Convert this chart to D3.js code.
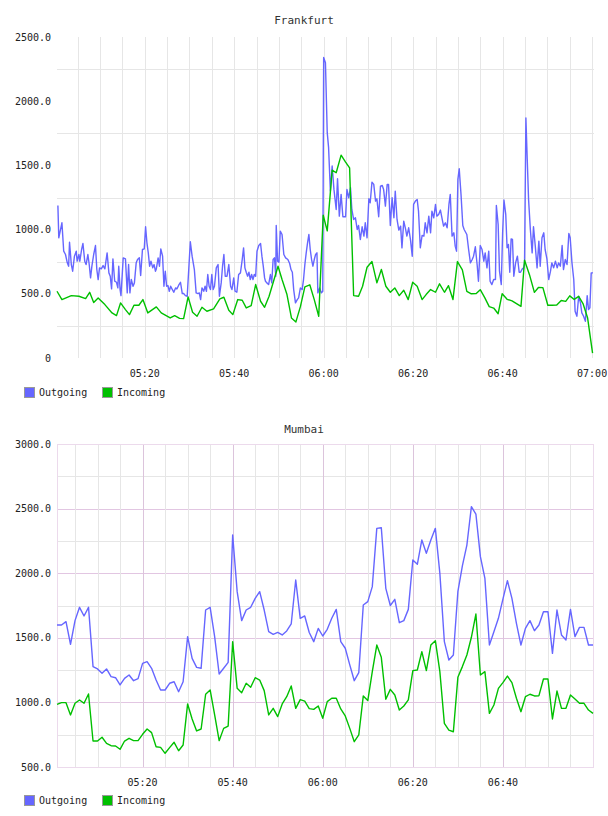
<!DOCTYPE html>
<html>
<head>
<meta charset="utf-8">
<script src="https://cdn.jsdelivr.net/npm/d3@7"></script>
<style>
  html, body { margin: 0; padding: 0; background: #fff; }
  svg { display: block; }
  text { font-family: "DejaVu Sans Mono", monospace; fill: #222; }
</style>
</head>
<body>
<svg id="chart" width="608" height="816"></svg>
<script>
// ---- data ---------------------------------------------------------

const seriesNames = ["Outgoing", "Incoming"];
const seriesColors = ["#6666ff", "#00c000"];

// Frankfurt: [minutes after 05:00, value]
const frankfurtOutgoing = [
  [0.6,1188],[0.8,936],[1.5,1053],[1.9,832],[2.3,806],[2.7,741],[3.0,715],[3.2,902],[3.6,728],[3.9,676],
  [4.3,793],[4.7,832],[4.9,754],[5.3,806],[5.5,754],[5.9,845],[6.2,892],[6.6,754],[6.9,728],[7.3,806],
  [7.6,728],[7.9,624],[8.2,715],[8.6,806],[9.0,876],[9.3,689],[9.6,611],[9.9,702],[10.3,694],[10.7,720],
  [11.1,694],[11.6,819],[12.0,663],[12.3,637],[12.6,538],[12.9,772],[13.3,598],[13.7,590],[14.0,546],[14.2,715],
  [14.5,533],[14.7,486],[15.2,780],[15.7,772],[16.1,507],[16.4,728],[16.7,507],[17.0,611],[17.4,559],[17.7,585],
  [18.1,741],[18.4,767],[18.8,780],[19.1,642],[19.5,845],[19.9,850],[20.2,1022],[20.5,897],[20.8,819],[21.1,715],
  [21.4,754],[21.8,702],[22.1,728],[22.4,676],[22.6,694],[23.0,780],[23.3,715],[23.6,850],[24.0,793],[24.3,559],
  [24.6,676],[24.9,559],[25.2,564],[25.5,520],[25.8,559],[26.1,538],[26.5,512],[26.9,546],[27.2,538],[27.6,567],
  [28.0,590],[28.4,502],[28.7,502],[29.1,486],[29.5,481],
  [30.2,905],[30.6,793],[31.1,689],[31.5,507],[31.9,502],[32.2,507],[32.5,455],[32.8,546],[33.2,520],[33.5,559],
  [33.8,520],[34.1,650],[34.4,559],[34.7,533],[35.0,650],[35.3,533],[35.6,559],[36.0,702],[36.4,728],[36.7,481],
  [37.1,585],[37.4,715],[37.7,806],[38.0,637],[38.4,637],[38.8,728],[39.2,559],[39.5,533],[39.9,624],[40.2,520],
  [40.6,512],[41.0,650],[41.4,663],[41.8,767],[42.1,858],[42.4,702],[42.7,668],[43.0,637],[43.3,668],[43.6,611],
  [43.9,650],[44.2,611],[44.5,650],[44.8,637],[45.1,832],[45.5,876],[45.9,892],[46.2,793],[46.5,715],[46.8,624],
  [47.0,598],[47.3,585],[47.7,572],[48.1,650],[48.4,585],[48.7,767],[49.0,780],[49.3,637],[49.4,1032],[49.7,754],
  [50.0,746],[50.3,988],[50.7,962],[51.1,806],[51.5,780],[52.0,767],[52.4,736],[52.7,689],[53.0,668],[53.3,533],
  [53.7,429],[54.1,455],[54.4,468],[54.8,546],[55.2,533],[55.5,611],[55.8,728],[56.1,819],[56.4,897],[56.7,962],
  [57.0,845],[57.3,767],[57.6,715],[57.9,767],[58.2,806],[58.5,819],[58.7,507],[59.1,546],[59.5,507],[59.8,520],
  [60.0,2340],[60.4,2300],[60.8,1755],[61.1,1640],[61.5,1300],[61.9,1495],[62.3,1313],[62.8,1157],[63.1,1396],[63.5,1105],
  [63.9,1274],[64.3,1100],[64.9,1100],[65.2,1313],[65.6,1248],[66.0,1326],[66.3,1157],[66.7,1079],[67.1,1092],[67.5,1001],
  [67.8,1032],[68.2,923],[68.6,1022],[69.0,949],[69.3,1053],[69.7,936],[70.1,1240],[70.4,1209],[70.8,1370],[71.2,1352],
  [71.6,1222],[71.9,1240],[72.3,1100],[72.7,1339],[73.1,1344],[73.4,1313],[73.8,1183],[74.2,1352],[74.5,1352],[74.9,1032],
  [75.3,1248],[75.7,1092],[76.0,1300],[76.4,1079],[76.8,996],[77.2,1027],[77.5,858],[77.9,1066],[78.3,1006],[78.6,949],
  [79.0,1014],[79.4,923],[79.8,793],[80.1,1196],[80.5,1222],[80.9,1235],[81.2,1144],[81.6,858],[82.0,954],[82.4,949],
  [82.7,1053],[83.1,975],[83.5,1105],[83.9,975],[84.2,1144],[84.6,1092],[85.0,1196],[85.3,1105],[85.7,1118],[86.1,1152],
  [86.5,1079],[86.8,1027],[87.2,1053],[87.6,1014],[88.0,1196],[88.3,1274],[88.7,949],[89.1,975],[89.4,871],[89.7,832],
  [90.0,1391],[90.3,1474],[90.7,1274],[91.1,1032],[91.4,1001],[92.0,962],[92.4,845],[92.8,741],[93.2,767],[93.5,793],
  [93.9,866],[94.3,728],[94.6,598],[95.0,876],[95.4,845],[95.8,754],[96.1,819],[96.5,702],[96.9,832],[97.2,598],
  [97.6,572],[98.0,611],[98.4,611],[98.6,1188],[99.0,1040],[99.3,676],[99.7,572],[100.0,975],[100.3,1230],[100.7,1118],
  [101.0,858],[101.3,884],[101.6,668],[101.9,928],[102.2,923],[102.5,637],[102.9,741],[103.3,793],[103.7,668],[104.0,668],
  [104.4,694],[104.7,702],[104.9,741],[105.2,1870],[105.5,1550],[105.8,1235],[106.2,1001],[106.6,819],[106.9,1022],[107.3,871],
  [107.7,702],[108.1,910],[108.4,715],[108.8,936],[109.2,975],[109.5,845],[109.9,772],[110.3,611],[110.7,676],[111.0,741],
  [111.4,702],[111.8,754],[112.2,702],[112.5,741],[112.9,715],[113.3,876],[113.6,689],[114.0,767],[114.4,728],[114.8,970],
  [115.1,936],[115.5,741],[115.9,611],[116.2,364],[116.6,325],[117.0,481],[117.4,429],[117.7,351],[118.1,325],[118.5,286],
  [118.9,486],[119.2,377],[119.5,390],[119.8,663],[120.2,663]
];

const frankfurtIncoming = [
  [0.4,520],[1.5,455],[3.6,486],[5.3,481],[6.8,463],[7.7,512],[8.6,432],[9.6,468],[11.1,416],[12.7,351],
  [13.7,330],[14.6,429],[15.7,377],[16.6,338],[17.6,411],[18.7,411],[19.6,455],[20.7,351],[22.6,398],[23.7,351],
  [25.7,312],[26.7,330],[27.8,309],[28.7,307],[29.7,476],[30.7,356],[31.7,325],[32.8,395],[33.9,364],[35.4,382],
  [36.8,460],[37.7,473],[38.8,372],[39.7,338],[40.8,455],[41.8,450],[42.7,390],[43.8,408],[44.8,572],[45.9,442],
  [46.8,395],[47.8,481],[48.8,598],[49.8,715],[50.7,611],[51.8,494],[52.8,312],[53.8,281],[54.8,400],[55.8,554],
  [56.9,570],[57.9,455],[58.9,325],[59.9,1112],[60.8,990],[61.9,1463],[62.8,1443],[63.9,1580],[64.9,1526],[65.8,1480],
  [66.7,486],[67.8,481],[68.7,559],[69.7,707],[70.8,751],[71.9,585],[72.9,689],[73.9,559],[74.9,512],[75.9,546],
  [76.9,486],[77.9,528],[78.9,455],[79.9,590],[80.9,559],[82.0,455],[82.9,494],[83.9,533],[85.0,512],[85.9,578],
  [87.0,512],[87.9,563],[88.9,455],[89.9,751],[91.0,687],[92.0,519],[93.0,500],[94.1,502],[95.0,532],[96.0,470],
  [97.0,400],[98.0,389],[99.0,345],[99.9,501],[101.0,457],[102.1,445],[103.1,423],[104.1,402],[104.9,761],[106.0,649],
  [107.1,511],[108.0,549],[109.0,548],[110.1,411],[111.0,411],[112.1,412],[113.1,448],[114.1,441],[115.0,484],[116.0,456],
  [117.0,480],[118.0,421],[119.0,311],[120.1,38]
];

// Mumbai: one sample per minute, first one at 05:01
const mumbaiStart = "05:01";
const mumbaiOutgoing = [
  1599,1599,1625,1449,1633,1736,1669,1736,1277,1259,
  1225,1259,1199,1191,1135,1186,1212,1168,1184,1302,
  1315,1264,1173,1096,1096,1148,1160,1083,1160,1509,
  1341,1271,1264,1715,1736,1509,1220,1264,1310,2296,
  1857,1633,1715,1736,1805,1857,1715,1547,1527,1542,
  1522,1553,1607,1947,1650,1669,1541,1470,1573,1514,
  1566,1651,1720,1470,1419,1290,1168,1230,1754,1780,
  1896,2347,2352,1883,1750,1798,1617,1633,1720,2102,
  2069,2257,2154,2257,2347,1999,1470,1328,1367,1857,
  2056,2218,2515,2458,2128,1960,1444,1547,1651,1800,
  1942,1805,1612,1444,1573,1633,1555,1599,1702,1702,
  1380,1715,1522,1483,1720,1509,1581,1581,1444,1444
];
const mumbaiIncoming = [
  985,998,998,903,993,1019,993,1065,701,701,
  730,683,665,663,637,701,722,704,704,753,
  794,766,657,652,606,650,691,626,670,988,
  872,779,794,1063,1096,903,704,799,817,1470,
  1109,1075,1148,1117,1191,1173,1091,903,954,890,
  988,1044,1127,954,1022,1010,952,946,972,877,
  1006,1032,1032,949,895,799,696,748,1050,1014,
  1238,1444,1349,1024,1101,1057,941,972,1019,1246,
  1251,1393,1246,1444,1478,1238,838,786,773,1194,
  1277,1367,1504,1684,1212,1238,915,980,1109,1153,
  1204,1153,1032,928,1044,1063,1050,1052,1181,1181,
  872,1088,954,954,1057,1026,993,993,941,915
];

const frankfurtYTicks = [0, 500, 1000, 1500, 2000, 2500];
const mumbaiYTicks = [500, 1000, 1500, 2000, 2500, 3000];
const frankfurtXLabels = ["05:20", "05:40", "06:00", "06:20", "06:40", "07:00"];
const mumbaiXLabels = ["05:20", "05:40", "06:00", "06:20", "06:40"];

// ---- helpers ------------------------------------------------------

const svg = d3.select("#chart");
const base = new Date(2020, 0, 1, 5, 0, 0);
const atMinute = m => new Date(base.getTime() + m * 60000);
const hmToMinute = s => { const [h, m] = s.split(":").map(Number); return (h - 5) * 60 + m; };
const crisp = v => Math.round(v) + 0.5;

const PLOT_LEFT = 57, PLOT_RIGHT = 593;

function drawChart(cfg) {
  const g = svg.append("g");
  const allPoints = cfg.series.flat();

  const x = d3.scaleTime()
    .domain(d3.extent(allPoints, d => d[0]))
    .range([PLOT_LEFT, PLOT_RIGHT]);
  const y = d3.scaleLinear()
    .domain(d3.extent(cfg.yTicks))
    .range([cfg.bottom, cfg.top]);

  const step = cfg.yTicks[1] - cfg.yTicks[0];
  const [yMin, yMax] = y.domain();

  // horizontal grid
  const hVals = cfg.framed
    ? d3.range(yMin + step / 2, yMax, step / 2)
    : d3.range(yMin + step / 2, yMax, step);
  g.append("g").selectAll("line")
    .data(hVals)
    .join("line")
    .attr("x1", PLOT_LEFT).attr("x2", PLOT_RIGHT + 1)
    .attr("y1", d => crisp(y(d))).attr("y2", d => crisp(y(d)))
    .attr("stroke", d => cfg.framed && d % step === 0 ? "#e2c6e2" : "#e6e6e6")
    .attr("stroke-width", 1);

  // vertical grid every 5 minutes
  const vTicks = x.ticks(d3.timeMinute.every(5));
  g.append("g").selectAll("line")
    .data(vTicks)
    .join("line")
    .attr("x1", d => crisp(x(d))).attr("x2", d => crisp(x(d)))
    .attr("y1", cfg.top).attr("y2", cfg.bottom)
    .attr("stroke", d => cfg.framed && d.getMinutes() % 20 === 0 ? "#dcc4dc" : "#e6e6e6")
    .attr("stroke-width", 1);

  if (cfg.framed) {
    g.append("rect")
      .attr("x", PLOT_LEFT + 0.5).attr("y", cfg.top + 0.5)
      .attr("width", PLOT_RIGHT - PLOT_LEFT).attr("height", cfg.bottom - cfg.top)
      .attr("fill", "none").attr("stroke", "#ecdaec");
  }

  // series
  const line = d3.line().x(d => x(d[0])).y(d => y(d[1]));
  cfg.series.forEach((s, i) => {
    g.append("path")
      .datum(s)
      .attr("d", line)
      .attr("fill", "none")
      .attr("stroke", seriesColors[i])
      .attr("stroke-width", 1.4)
      .attr("stroke-linejoin", "round");
  });

  // y labels
  g.append("g").selectAll("text")
    .data(cfg.yTicks)
    .join("text")
    .attr("x", 51).attr("y", d => y(d))
    .attr("dy", "0.35em")
    .attr("text-anchor", "end")
    .style("font-size", "10px")
    .text(d => d === 0 ? "0" : d.toFixed(1));

  // x labels
  g.append("g").selectAll("text")
    .data(cfg.xLabels)
    .join("text")
    .attr("x", d => x(atMinute(hmToMinute(d))))
    .attr("y", cfg.bottom + 15)
    .attr("dy", "0.35em")
    .attr("text-anchor", "middle")
    .style("font-size", "10px")
    .text(d => d);

  // title
  g.append("text")
    .attr("x", 304).attr("y", cfg.titleY)
    .attr("text-anchor", "middle")
    .style("font-size", "11px")
    .style("fill", "#333")
    .text(cfg.title);

  // legend
  const leg = g.append("g").selectAll("g")
    .data(seriesNames)
    .join("g")
    .attr("transform", (d, i) => `translate(${24 + i * 78},${cfg.legendY})`);
  leg.append("rect")
    .attr("x", 0.5).attr("y", 0.5).attr("width", 10).attr("height", 10)
    .attr("fill", (d, i) => seriesColors[i])
    .attr("stroke", "#999");
  leg.append("text")
    .attr("x", 15).attr("y", 5.5).attr("dy", "0.35em")
    .style("font-size", "10px")
    .text(d => d);
}

// ---- build --------------------------------------------------------

const toPairs = arr => arr.map(d => [atMinute(d[0]), d[1]]);
const startMin = hmToMinute(mumbaiStart);
const perMinute = arr => arr.map((v, i) => [atMinute(startMin + i), v]);

drawChart({
  title: "Frankfurt", titleY: 24,
  top: 37, bottom: 358, legendY: 387,
  framed: false,
  yTicks: frankfurtYTicks, xLabels: frankfurtXLabels,
  series: [toPairs(frankfurtOutgoing), toPairs(frankfurtIncoming)]
});

drawChart({
  title: "Mumbai", titleY: 433,
  top: 444, bottom: 767, legendY: 795,
  framed: true,
  yTicks: mumbaiYTicks, xLabels: mumbaiXLabels,
  series: [perMinute(mumbaiOutgoing), perMinute(mumbaiIncoming)]
});
</script>
</body>
</html>
